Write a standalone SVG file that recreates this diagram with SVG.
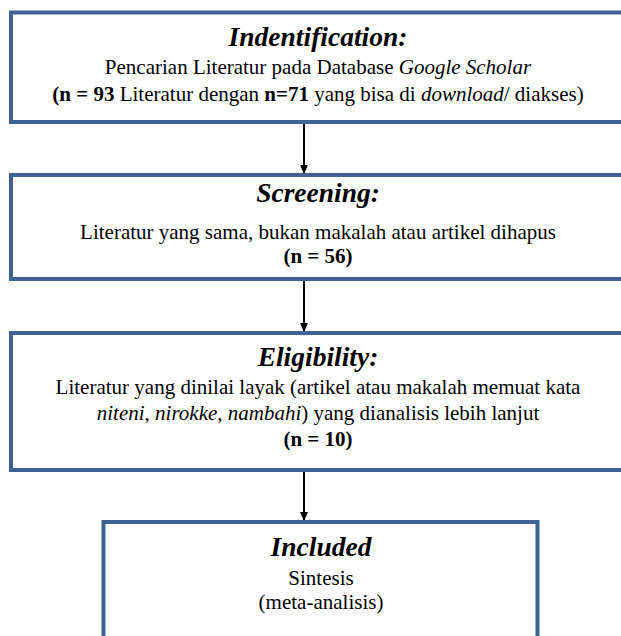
<svg xmlns="http://www.w3.org/2000/svg" width="621" height="636" viewBox="0 0 621 636">
<defs>
<style>
.box{fill:#ffffff;stroke:#3f6296;stroke-width:4}
.t{font-family:"Liberation Serif","Times New Roman",serif;fill:#000;text-anchor:middle}
.h{font-size:27.5px;font-weight:bold;font-style:italic}
.b{font-size:21px}
.bd{font-weight:bold}
.it{font-style:italic}
.con{stroke:#000;stroke-width:2;fill:none}
</style>
<marker id="ah" markerWidth="10" markerHeight="10" refX="8" refY="5" orient="auto" markerUnits="userSpaceOnUse">
<path d="M0,1 L9,5 L0,9 Z" fill="#000"/>
</marker>
</defs>
<rect x="0" y="0" width="621" height="636" fill="#fff"/>
<g id="connectors">
<line class="con" x1="304" y1="124" x2="304" y2="173" marker-end="url(#ah)"/>
<line class="con" x1="304" y1="281" x2="304" y2="331" marker-end="url(#ah)"/>
<line class="con" x1="304" y1="472" x2="304" y2="520" marker-end="url(#ah)"/>
</g>
<g id="identification">
<rect class="box" x="11" y="12.5" width="625" height="109.5"/>
<text class="t h" x="318" y="46">Indentification:</text>
<text class="t b" x="318" y="74">Pencarian Literatur pada Database <tspan class="it">Google Scholar</tspan></text>
<text class="t b" x="318" y="101"><tspan class="bd">(n = 93</tspan> Literatur dengan <tspan class="bd">n=71</tspan> yang bisa di <tspan class="it">download</tspan>/ diakses)</text>
</g>
<g id="screening">
<rect class="box" x="11" y="175" width="625" height="104"/>
<text class="t h" x="318" y="202">Screening:</text>
<text class="t b" x="318" y="239">Literatur yang sama, bukan makalah atau artikel dihapus</text>
<text class="t b bd" x="318" y="263">(n = 56)</text>
</g>
<g id="eligibility">
<rect class="box" x="11" y="333" width="625" height="137"/>
<text class="t h" x="318" y="366">Eligibility:</text>
<text class="t b" x="318" y="394">Literatur yang dinilai layak (artikel atau makalah memuat kata</text>
<text class="t b" x="318" y="420"><tspan class="it">niteni, nirokke, nambahi</tspan>) yang  dianalisis lebih lanjut</text>
<text class="t b bd" x="318" y="446">(n = 10)</text>
</g>
<g id="included">
<rect class="box" x="103.5" y="522" width="434" height="130"/>
<text class="t h" x="321" y="556">Included</text>
<text class="t b" x="321" y="585">Sintesis</text>
<text class="t b" x="321" y="609">(meta-analisis)</text>
</g>
</svg>
